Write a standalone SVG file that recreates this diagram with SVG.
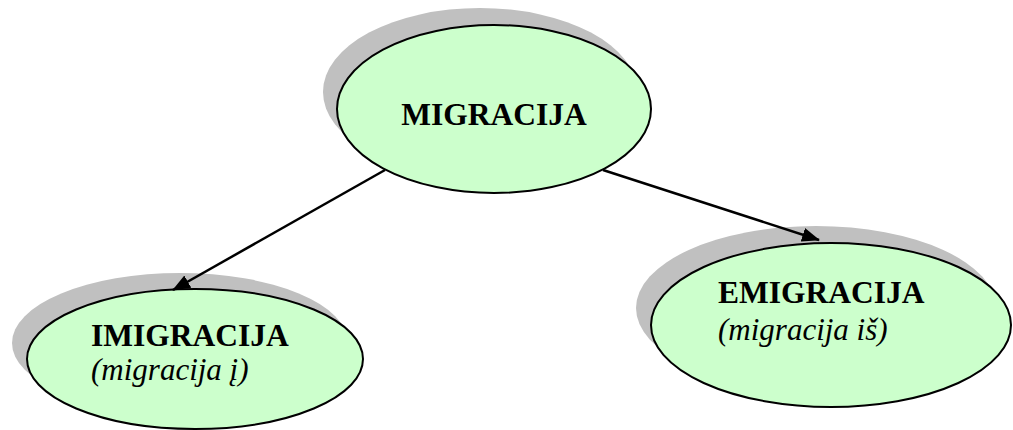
<svg xmlns="http://www.w3.org/2000/svg" width="1013" height="430" viewBox="0 0 1013 430">
<defs>
<style>
.shadow{fill:#c0c0c0;stroke:none}
.node{fill:#ccffcc;stroke:#000;stroke-width:2}
.b{font-family:"Liberation Serif","Times New Roman",serif;font-weight:bold;font-size:31.5px;fill:#000}
.i{font-family:"Liberation Serif","Times New Roman",serif;font-style:italic;font-size:31px;fill:#000}
.edge{stroke:#000;stroke-width:2.5;fill:none;marker-end:url(#arr)}
</style>
<marker id="arr" markerWidth="18" markerHeight="14" refX="17" refY="7" orient="auto" markerUnits="userSpaceOnUse">
<path d="M0,0 L18,7 L0,14 Z" fill="#000"/>
</marker>
</defs>
<g id="node-migracija">
<ellipse class="shadow" cx="480" cy="92" rx="157" ry="84"/>
<ellipse class="node" cx="494" cy="109" rx="157" ry="84"/>
<text class="b" x="494" y="125" text-anchor="middle">MIGRACIJA</text>
</g>
<g id="node-imigracija">
<ellipse class="shadow" cx="180" cy="343" rx="168" ry="70"/>
<ellipse class="node" cx="195" cy="359" rx="168" ry="70"/>
<text class="b" x="91" y="346">IMIGRACIJA</text>
<text class="i" x="91" y="380">(migracija į)</text>
</g>
<g id="node-emigracija">
<ellipse class="shadow" cx="816" cy="308" rx="180" ry="82"/>
<ellipse class="node" cx="831" cy="325" rx="180" ry="82"/>
<text class="b" x="718" y="303">EMIGRACIJA</text>
<text class="i" x="718" y="340">(migracija iš)</text>
</g>
<g id="connectors">
<line class="edge" x1="385" y1="170" x2="173" y2="290"/>
<line class="edge" x1="603" y1="170" x2="819" y2="240"/>
</g>
</svg>
